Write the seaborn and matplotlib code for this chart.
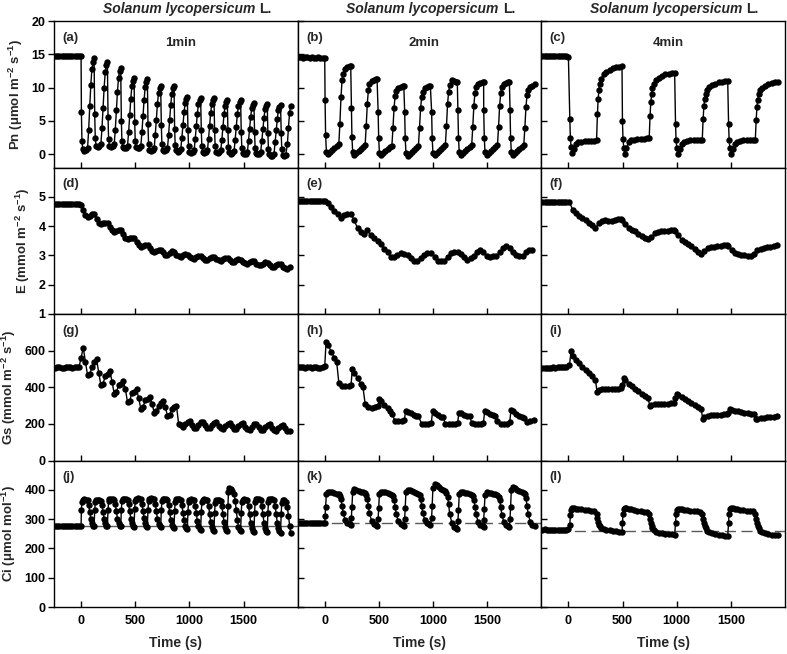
import numpy as np
import pandas as pd
import seaborn as sns
import matplotlib.pyplot as plt

# ---- data ----
# light-switch times (s) for the 1, 2 and 4 min treatments
starts_1 = [0, 123, 246, 369, 492, 615, 738, 861, 984, 1107, 1230, 1353, 1476, 1599, 1722, 1845]
starts_2 = [0, 243, 490, 735, 984, 1227, 1465, 1708]
starts_4 = [10, 496, 986, 1476]

# sample times inside one cycle (s after the switch)
offs_fast_1 = [3, 8, 15, 30, 45, 60, 70, 80, 90, 100, 110, 120]
offs_slow_1 = [0, 20, 40, 60, 80, 100]
offs_fast_2 = [3, 8, 15, 30, 50, 70, 90, 110, 130, 140, 150, 160, 170, 190, 210, 230, 240]
offs_e_2 = [0, 30, 60, 90, 120, 150, 180, 210]
offs_gs_2 = [0, 12, 30, 60, 90, 110, 130, 160, 190, 220]
offs_fast_4 = [3, 8, 15, 25, 40, 60, 80, 110, 140, 170, 200, 230, 250, 258, 265, 272, 280,
               295, 315, 340, 370, 400, 430, 460, 485]
offs_e_4 = [0, 30, 60, 90, 120, 150, 180, 210, 240, 270, 300, 330, 360, 390, 420, 450, 480]
offs_gs_4 = [0, 15, 30, 60, 90, 120, 150, 180, 210, 240, 255, 270, 300, 330, 360, 390, 420, 450, 480]

# steady state before switching starts
base_t_fast = np.arange(-240, 1, 20)
base_t_slow = np.arange(-240, -19, 20)

# Pn
pn_a_base = [14.7, 14.8, 14.7, 14.7, 14.8, 14.7, 14.7, 14.8, 14.7, 14.7, 14.8, 14.7, 14.7]
pn_a = [
    [6.3, 2.0, 0.8, 0.5, 0.6, 1.0, 3.6, 7.2, 10.4, 12.8, 13.8, 14.4],
    [6.0, 2.4, 1.3, 1.1, 1.2, 1.5, 3.9, 7.0, 10.0, 12.3, 13.4, 13.9],
    [5.6, 2.3, 1.3, 1.1, 1.2, 1.5, 3.7, 6.6, 9.4, 11.5, 12.5, 12.9],
    [5.0, 2.0, 1.1, 0.9, 1.0, 1.3, 3.3, 5.9, 8.3, 10.2, 11.0, 11.4],
    [4.9, 2.0, 1.1, 0.9, 1.0, 1.3, 3.3, 5.8, 8.2, 10.1, 10.9, 11.3],
    [4.5, 1.6, 0.7, 0.5, 0.6, 0.9, 2.9, 5.2, 7.5, 9.2, 10.0, 10.3],
    [4.4, 1.6, 0.7, 0.5, 0.6, 0.9, 2.9, 5.2, 7.4, 9.1, 9.9, 10.2],
    [3.8, 1.4, 0.6, 0.4, 0.5, 0.8, 2.5, 4.4, 6.3, 7.7, 8.3, 8.6],
    [3.7, 1.2, 0.4, 0.2, 0.3, 0.6, 2.3, 4.2, 6.1, 7.5, 8.1, 8.4],
    [3.7, 1.2, 0.4, 0.2, 0.3, 0.6, 2.3, 4.3, 6.2, 7.6, 8.2, 8.5],
    [3.6, 1.2, 0.4, 0.2, 0.3, 0.6, 2.2, 4.1, 6.0, 7.3, 7.9, 8.2],
    [3.6, 1.1, 0.3, 0.1, 0.2, 0.5, 2.2, 4.1, 6.0, 7.3, 7.9, 8.2],
    [3.4, 1.0, 0.2, 0.0, 0.1, 0.4, 2.0, 3.8, 5.6, 6.9, 7.4, 7.7],
    [3.3, 1.0, 0.2, 0.0, 0.1, 0.4, 2.0, 3.8, 5.5, 6.8, 7.3, 7.6],
    [3.2, 0.8, 0.0, -0.3, -0.2, 0.1, 1.8, 3.6, 5.3, 6.6, 7.1, 7.4],
    [3.2, 0.8, -0.1, -0.3, -0.1, 1.5, 4.0, 6.2, 7.3],
]
pn_b_base = [14.6, 14.6, 14.5, 14.6, 14.6, 14.5, 14.6, 14.5, 14.5, 14.6, 14.5, 14.5, 14.4]
pn_b = [
    [8.1, 2.9, 0.4, 0.0, 0.3, 0.6, 0.9, 1.2, 1.5, 4.6, 8.6, 11.1, 12.1, 12.8, 13.1, 13.2, 13.2],
    [7.0, 2.6, 0.3, -0.1, 0.2, 0.5, 0.8, 1.1, 1.4, 4.2, 7.6, 9.6, 10.5, 11.0, 11.2, 11.3, 11.35],
    [6.4, 2.4, 0.2, -0.1, 0.2, 0.5, 0.8, 1.1, 1.3, 3.9, 7.0, 8.7, 9.5, 9.9, 10.1, 10.2, 10.3],
    [6.4, 2.4, 0.2, -0.2, 0.1, 0.4, 0.7, 1.0, 1.3, 3.9, 6.9, 8.6, 9.4, 9.9, 10.1, 10.2, 10.3],
    [6.4, 2.4, 0.2, -0.1, 0.2, 0.5, 0.8, 1.1, 1.4, 4.2, 7.5, 9.4, 10.4, 11.1, 11.0, 10.9, 10.9],
    [6.7, 2.5, 0.3, -0.1, 0.2, 0.5, 0.8, 1.1, 1.4, 4.1, 7.3, 9.2, 10.1, 10.5, 10.7, 10.8, 10.85],
    [6.7, 2.5, 0.3, -0.1, 0.2, 0.5, 0.8, 1.1, 1.4, 4.1, 7.3, 9.2, 10.1, 10.5, 10.7, 10.8, 10.85],
    [6.7, 2.5, 0.3, -0.1, 0.2, 0.5, 0.8, 1.1, 1.4, 4.0, 7.1, 8.9, 9.7, 10.1, 10.3, 10.5],
]
pn_c_base = [14.7, 14.7, 14.7, 14.8, 14.7, 14.7, 14.7, 14.7, 14.8, 14.7, 14.7, 14.7, 14.6]
pn_c = [
    [5.35, 2.45, 1.1, 0.25, 0.8, 1.6, 1.8, 1.9, 2.0, 2.0, 2.0, 2.05, 2.1, 6.1, 8.35, 9.6, 10.6,
     11.35, 12.0, 12.4, 12.7, 12.9, 13.05, 13.15, 13.2],
    [5.0, 2.3, 1.0, 0.0, 0.9, 1.8, 2.1, 2.2, 2.3, 2.35, 2.35, 2.4, 2.4, 5.8, 7.8, 9.0, 9.9,
     10.6, 11.1, 11.5, 11.8, 12.0, 12.1, 12.2, 12.2],
    [4.6, 2.2, 0.9, 0.0, 0.8, 1.6, 1.9, 2.0, 2.1, 2.1, 2.15, 2.2, 2.2, 5.3, 7.2, 8.3, 9.1,
     9.7, 10.1, 10.4, 10.6, 10.8, 10.9, 10.95, 10.95],
    [4.6, 2.2, 0.9, 0.0, 0.8, 1.6, 1.9, 2.0, 2.1, 2.1, 2.15, 2.2, 2.2, 5.2, 7.1, 8.2, 9.0,
     9.6, 10.0, 10.3, 10.5, 10.7, 10.85, 10.9],
]

# E
e_d_base = [4.75, 4.76, 4.75, 4.75, 4.76, 4.75, 4.75, 4.76, 4.75, 4.75, 4.76, 4.75]
e_d = [
    [4.72, 4.55, 4.38, 4.30, 4.36, 4.42],
    [4.40, 4.25, 4.12, 4.06, 4.09, 4.12],
    [4.12, 3.98, 3.86, 3.80, 3.83, 3.86],
    [3.86, 3.72, 3.60, 3.55, 3.58, 3.61],
    [3.60, 3.47, 3.36, 3.30, 3.33, 3.36],
    [3.35, 3.25, 3.15, 3.10, 3.15, 3.20],
    [3.20, 3.10, 3.03, 3.00, 3.08, 3.15],
    [3.13, 3.03, 2.97, 2.95, 3.00, 3.05],
    [3.03, 2.96, 2.90, 2.88, 2.93, 2.98],
    [2.97, 2.90, 2.86, 2.85, 2.90, 2.95],
    [2.93, 2.87, 2.83, 2.82, 2.87, 2.92],
    [2.90, 2.83, 2.79, 2.78, 2.83, 2.88],
    [2.86, 2.78, 2.74, 2.72, 2.77, 2.82],
    [2.80, 2.72, 2.68, 2.66, 2.71, 2.76],
    [2.75, 2.67, 2.62, 2.60, 2.66, 2.72],
    [2.70, 2.62, 2.57, 2.55, 2.62],
]
e_e_base = [4.86, 4.87, 4.86, 4.86, 4.85, 4.87, 4.86, 4.85, 4.86, 4.86, 4.87, 4.86]
e_e = [
    [4.86, 4.80, 4.65, 4.50, 4.40, 4.29, 4.38, 4.42],
    [4.40, 4.20, 3.92, 3.80, 3.72, 3.86, 3.70, 3.60],
    [3.50, 3.38, 3.22, 3.10, 2.95, 2.93, 3.02, 3.08],
    [3.06, 3.00, 2.90, 2.82, 2.80, 2.92, 3.03, 3.09],
    [3.08, 2.95, 2.82, 2.80, 2.82, 2.95, 3.07, 3.12],
    [3.12, 3.05, 2.95, 2.86, 2.90, 2.98, 3.12, 3.20],
    [3.12, 2.99, 2.95, 2.97, 2.98, 3.10, 3.25, 3.32],
    [3.25, 3.10, 3.03, 2.98, 2.97, 3.10, 3.20, 3.20],
]
e_f_base = [4.82, 4.83, 4.82, 4.82, 4.82, 4.83, 4.82, 4.82, 4.83, 4.82, 4.82, 4.82]
e_f = [
    [4.82, 4.55, 4.45, 4.36, 4.28, 4.20, 4.12, 4.03, 3.93, 4.10, 4.18, 4.20, 4.19, 4.17, 4.20, 4.24, 4.24],
    [4.22, 4.08, 3.95, 3.88, 3.82, 3.72, 3.66, 3.60, 3.56, 3.62, 3.76, 3.80, 3.82, 3.83, 3.84, 3.85, 3.85],
    [3.84, 3.68, 3.54, 3.46, 3.40, 3.32, 3.22, 3.12, 3.04, 3.15, 3.24, 3.27, 3.30, 3.32, 3.33, 3.35, 3.37],
    [3.33, 3.18, 3.09, 3.05, 3.03, 3.00, 2.99, 2.97, 3.05, 3.18, 3.22, 3.25, 3.27, 3.29, 3.31, 3.34],
]

# Gs
gs_g_base = [505, 508, 510, 507, 506, 509, 510, 508, 507, 510, 509, 508]
gs_g = [
    [560, 617, 540, 465, 470, 510],
    [540, 553, 480, 412, 420, 460],
    [470, 489, 430, 365, 372, 410],
    [420, 435, 390, 318, 325, 370],
    [375, 389, 340, 282, 290, 330],
    [338, 349, 310, 262, 268, 300],
    [315, 325, 290, 245, 250, 280],
    [290, 298, 200, 195, 185, 200],
    [210, 215, 195, 180, 178, 195],
    [208, 212, 192, 178, 175, 192],
    [205, 210, 190, 175, 172, 190],
    [202, 207, 188, 172, 170, 188],
    [200, 205, 185, 170, 168, 185],
    [197, 202, 182, 167, 165, 182],
    [194, 198, 180, 165, 162, 178],
    [190, 195, 178, 162, 160],
]
gs_h_base = [510, 508, 512, 507, 509, 511, 506, 508, 510, 505, 507, 509]
gs_h = [
    [515, 645, 630, 595, 560, 540, 425, 408, 405, 407],
    [415, 499, 480, 450, 418, 400, 310, 292, 289, 292],
    [295, 334, 325, 305, 285, 268, 255, 216, 214, 216],
    [220, 270, 266, 258, 250, 245, 242, 200, 197, 200],
    [205, 270, 262, 250, 240, 236, 198, 197, 197, 200],
    [205, 261, 258, 250, 245, 243, 206, 200, 198, 200],
    [205, 270, 263, 252, 246, 243, 215, 200, 198, 202],
    [210, 276, 268, 255, 245, 240, 230, 208, 218, 222],
]
gs_i_base = [505, 506, 505, 507, 506, 508, 507, 508, 509, 508, 510, 511]
gs_i = [
    [520, 599, 570, 550, 532, 512, 495, 478, 460, 440, 372, 385, 390, 392, 390, 388, 390, 393, 398],
    [410, 453, 440, 420, 405, 392, 378, 362, 350, 340, 300, 305, 310, 311, 311, 310, 311, 312, 315],
    [340, 362, 355, 345, 335, 325, 315, 302, 290, 279, 228, 240, 244, 246, 248, 250, 250, 252, 255],
    [260, 283, 278, 272, 268, 265, 262, 258, 255, 252, 225, 228, 230, 233, 235, 238, 240, 243],
]

# Ci
ci_j_base = [277, 278, 277, 277, 278, 277, 276, 277, 277, 276, 277, 276, 276]
ci_j = [
    [332, 360, 366, 367, 366, 364, 348, 324, 301, 285, 278, 275],
    [330, 358, 365, 366, 365, 363, 347, 323, 300, 285, 278, 275],
    [332, 361, 368, 369, 368, 366, 350, 326, 302, 286, 278, 275],
    [332, 361, 368, 369, 368, 366, 350, 326, 302, 285, 277, 274],
    [333, 363, 370, 371, 370, 368, 352, 327, 303, 285, 277, 273],
    [332, 363, 370, 371, 370, 368, 352, 327, 302, 284, 276, 272],
    [330, 361, 368, 369, 368, 366, 349, 323, 298, 280, 272, 268],
    [328, 360, 368, 369, 368, 366, 348, 322, 296, 278, 269, 265],
    [325, 358, 366, 367, 366, 364, 346, 320, 293, 275, 266, 262],
    [323, 357, 366, 367, 366, 364, 345, 318, 291, 273, 264, 260],
    [322, 355, 364, 365, 364, 362, 344, 317, 290, 272, 264, 260],
    [345, 392, 405, 402, 395, 386, 362, 330, 298, 274, 263, 258],
    [322, 357, 366, 367, 366, 364, 345, 316, 288, 270, 260, 255],
    [320, 357, 367, 368, 367, 365, 346, 317, 288, 270, 260, 255],
    [320, 357, 367, 368, 367, 365, 345, 316, 287, 268, 258, 253],
    [318, 355, 366, 366, 360, 340, 310, 278, 252],
]
ci_k_base = [287, 286, 287, 286, 286, 287, 286, 286, 285, 286, 286, 285, 286]
ci_k = [
    [309, 343, 385, 394, 393, 391, 389, 387, 385, 380, 368, 345, 320, 296, 287, 282, 280],
    [305, 340, 393, 402, 400, 397, 394, 391, 388, 383, 370, 346, 320, 294, 284, 279, 277],
    [302, 337, 386, 394, 393, 391, 388, 386, 383, 378, 366, 343, 318, 293, 283, 279, 277],
    [302, 338, 391, 400, 398, 396, 393, 390, 387, 382, 370, 346, 320, 296, 286, 282, 280],
    [305, 345, 405, 420, 415, 409, 404, 400, 396, 390, 376, 350, 318, 286, 274, 268, 266],
    [292, 330, 385, 394, 393, 390, 388, 386, 383, 378, 366, 343, 316, 290, 280, 275, 273],
    [298, 333, 382, 391, 390, 388, 386, 384, 381, 376, 364, 341, 315, 289, 279, 275, 273],
    [300, 340, 400, 411, 406, 401, 397, 393, 389, 384, 371, 346, 318, 291, 280, 275],
]
ci_l_base = [264, 265, 264, 264, 263, 264, 264, 263, 264, 264, 263, 264, 265]
ci_l = [
    [281, 315, 332, 337, 337, 336, 335, 334, 332, 330, 328, 326, 318, 303, 290, 281, 275,
     270, 266, 264, 262, 260, 258, 256, 255],
    [286, 318, 333, 337, 337, 335, 333, 331, 329, 327, 325, 323, 316, 300, 285, 275, 268,
     262, 257, 254, 252, 250, 249, 248, 247],
    [285, 316, 330, 334, 334, 333, 331, 330, 328, 327, 326, 325, 318, 302, 287, 276, 268,
     261, 256, 252, 249, 247, 245, 244, 243],
    [288, 318, 333, 337, 337, 336, 334, 332, 330, 328, 327, 326, 318, 302, 287, 276, 268,
     261, 256, 252, 249, 247, 246, 245],
]
ci_ref = [275, 286, 261]

col_tags = ['1min', '2min', '4min']
row_labels = ['Pn (μmol m$^{-2}$ s$^{-1}$)', 'E (mmol m$^{-2}$ s$^{-1}$)',
              'Gs (mmol m$^{-2}$ s$^{-1}$)', 'Ci (μmol mol$^{-1}$)']
row_lims = [(-2, 20), (1, 6), (0, 800), (0, 500)]
row_ticks = [[0, 5, 10, 15, 20], [1, 2, 3, 4, 5], [0, 200, 400, 600], [0, 100, 200, 300, 400]]
x_ticks = [0, 500, 1000, 1500]


def build(base_t, base_v, starts, offs, cycles):
    t = list(base_t)
    v = list(base_v)
    for s, vals in zip(starts, cycles):
        t += [s + o for o in offs[:len(vals)]]
        v += list(vals)
    return pd.DataFrame({'t': t, 'v': v})


panels = [
    [build(base_t_fast, pn_a_base, starts_1, offs_fast_1, pn_a),
     build(base_t_fast, pn_b_base, starts_2, offs_fast_2, pn_b),
     build(base_t_fast, pn_c_base, starts_4, offs_fast_4, pn_c)],
    [build(base_t_slow, e_d_base, starts_1, offs_slow_1, e_d),
     build(base_t_slow, e_e_base, starts_2, offs_e_2, e_e),
     build(base_t_slow, e_f_base, starts_4, offs_e_4, e_f)],
    [build(base_t_slow, gs_g_base, starts_1, offs_slow_1, gs_g),
     build(base_t_slow, gs_h_base, starts_2, offs_gs_2, gs_h),
     build(base_t_slow, gs_i_base, starts_4, offs_gs_4, gs_i)],
    [build(base_t_fast, ci_j_base, starts_1, offs_fast_1, ci_j),
     build(base_t_fast, ci_k_base, starts_2, offs_fast_2, ci_k),
     build(base_t_fast, ci_l_base, starts_4, offs_fast_4, ci_l)],
]

sns.set_theme(style='ticks')
plt.rcParams['font.family'] = ['Liberation Sans', 'DejaVu Sans']
plt.rcParams['font.weight'] = 'bold'
plt.rcParams['mathtext.default'] = 'regular'
plt.rcParams['axes.edgecolor'] = 'black'
plt.rcParams['axes.linewidth'] = 1.0
plt.rcParams['xtick.color'] = 'black'
plt.rcParams['ytick.color'] = 'black'

fig, axes = plt.subplots(4, 3, figsize=(7.87, 6.54), dpi=100,
                         gridspec_kw=dict(left=54 / 787, right=785 / 787, top=1 - 21 / 654,
                                          bottom=1 - 607 / 654, wspace=0, hspace=0))

letters = 'abcdefghijkl'
for r in range(4):
    for c in range(3):
        ax = axes[r][c]
        df = panels[r][c]
        if r == 3:
            ax.axhline(ci_ref[c], color='0.35', lw=1.0, ls='-' if c == 0 else (0, (8, 4)), zorder=1)
        sns.lineplot(data=df, x='t', y='v', ax=ax, color='black', marker='o', markersize=4.6,
                     markeredgewidth=0, linewidth=1.0, estimator=None, sort=False, zorder=3)
        ax.set_xlim(-250, 2000)
        ax.set_ylim(*row_lims[r])
        ax.set_xticks(x_ticks)
        ax.set_yticks(row_ticks[r])
        ax.tick_params(axis='x', direction='in', length=4, width=1, labelsize=9, pad=6)
        ax.tick_params(axis='y', direction='out' if c == 0 else 'in', length=4, width=1,
                       labelsize=9, pad=2)
        if r < 3:
            ax.set_xticklabels([])
            ax.set_xlabel('')
        else:
            ax.set_xlabel('Time (s)', fontsize=10, fontweight='bold', labelpad=6)
        if c > 0:
            ax.set_yticklabels([])
            ax.set_ylabel('')
        else:
            ax.set_ylabel(row_labels[r], fontsize=9.5, fontweight='bold', labelpad=5)
        ax.text(0.035, 0.885, '(%s)' % letters[r * 3 + c], transform=ax.transAxes,
                fontsize=9.5, fontweight='bold', va='center', ha='left')
        for s in ax.spines.values():
            s.set_visible(True)
            s.set_color('black')

for c in range(3):
    ax = axes[0][c]
    ax.text(0.52, 0.85, col_tags[c], transform=ax.transAxes, fontsize=9.5,
            fontweight='bold', ha='center', va='center')
    t1 = ax.text(0.2, 1.055, 'Solanum lycopersicum', transform=ax.transAxes, fontsize=10,
                 fontweight='bold', style='italic', ha='left', va='baseline')
    ax.annotate('L.', xy=(1, 0), xycoords=t1, xytext=(3, 0), textcoords='offset points',
                fontsize=10, fontweight='bold', ha='left', va='bottom')

fig.savefig('out.png', dpi=100)
